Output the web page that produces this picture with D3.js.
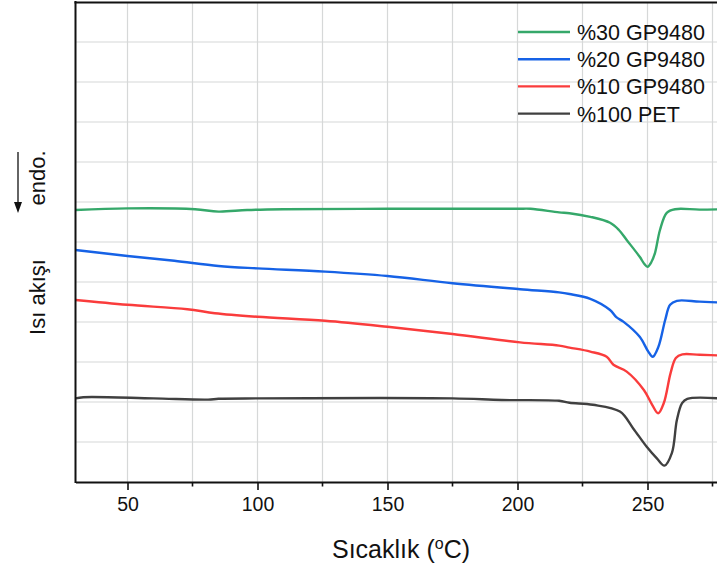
<!DOCTYPE html>
<html>
<head>
<meta charset="utf-8">
<script src="https://cdn.jsdelivr.net/npm/d3@7"></script>
<style>
  html, body { margin: 0; padding: 0; background: #fff; }
  svg { display: block; font-family: "Liberation Sans", Arial, sans-serif; }
</style>
</head>
<body>
<svg id="chart" width="717" height="568"></svg>
<script>
// DSC heating curves: temperature (°C) vs. heat flow (arbitrary units, curves offset)
const temps30 = [30, 50, 76, 85, 96, 110, 150, 200, 205, 216, 220, 228, 235.6, 239, 242, 247, 248.8, 250, 251.5, 252.9, 254.8, 257.4, 260.6, 270, 280];
const gp30    = [6.80, 6.84, 6.82, 6.76, 6.80, 6.82, 6.83, 6.83, 6.83, 6.74, 6.72, 6.63, 6.48, 6.30, 6.05, 5.63, 5.45, 5.38, 5.50, 5.73, 6.30, 6.73, 6.82, 6.81, 6.82];

const temps20 = [30, 50, 68, 85, 100, 126, 150, 175, 201, 216, 220, 228, 235.6, 238, 240.7, 247, 250.3, 252, 254.2, 256.8, 258.7, 261.3, 270, 280];
const gp20    = [5.80, 5.65, 5.53, 5.40, 5.34, 5.26, 5.15, 4.97, 4.82, 4.74, 4.70, 4.58, 4.30, 4.12, 4.01, 3.63, 3.26, 3.13, 3.38, 4.05, 4.43, 4.53, 4.51, 4.48];

const temps10 = [30, 50, 73, 83.6, 100, 126, 150, 175, 201, 216, 220, 228, 234.3, 236.9, 242, 248.6, 251.8, 254.1, 256.3, 258.9, 260.9, 263.4, 270, 280];
const gp10    = [4.55, 4.43, 4.32, 4.22, 4.13, 4.03, 3.88, 3.70, 3.49, 3.41, 3.36, 3.26, 3.13, 2.93, 2.76, 2.30, 1.93, 1.72, 1.98, 2.73, 3.10, 3.19, 3.18, 3.16];

const tempsPet = [30, 33, 60, 81, 85, 100, 175, 194, 216, 220, 229, 239.4, 244.5, 249.7, 253.6, 256.5, 259.4, 261.3, 263.3, 265.3, 280];
const pet      = [2.09, 2.12, 2.09, 2.06, 2.08, 2.09, 2.09, 2.05, 2.03, 1.98, 1.93, 1.76, 1.34, 0.88, 0.59, 0.41, 0.73, 1.55, 1.97, 2.08, 2.08];

const seriesNames  = ["%30 GP9480", "%20 GP9480", "%10 GP9480", "%100 PET"];
const seriesColors = ["#35a86a", "#1662e6", "#fa3c3c", "#404040"];
const seriesTemps  = [temps30, temps20, temps10, tempsPet];
const seriesValues = [gp30, gp20, gp10, pet];

const majorTicks = [50, 100, 150, 200, 250];
const minorTicks = [75, 125, 175, 225, 275];
const yGridLevels = [1, 2, 3, 4, 5, 6, 7, 8, 9, 10, 11];

const svg = d3.select("#chart");
const plotLeft = 75.5, plotRight = 725.5, plotTop = 2, plotBottom = 482;

const x = d3.scaleLinear().domain([30, 280]).range([plotLeft, plotRight]);
const y = d3.scaleLinear().domain([0, 12]).range([plotBottom, plotTop]);

svg.append("defs").append("clipPath").attr("id", "plotClip")
  .append("rect").attr("x", plotLeft).attr("y", plotTop)
  .attr("width", plotRight - plotLeft).attr("height", plotBottom - plotTop);

// grid
const grid = svg.append("g").attr("stroke", "#d6d8d8").attr("stroke-width", 1.2);
grid.selectAll("line.v").data(majorTicks.concat(minorTicks)).join("line").attr("class", "v")
  .attr("x1", d => x(d)).attr("x2", d => x(d)).attr("y1", plotTop).attr("y2", plotBottom);
grid.selectAll("line.h").data(yGridLevels).join("line").attr("class", "h")
  .attr("x1", plotLeft).attr("x2", plotRight).attr("y1", d => y(d)).attr("y2", d => y(d));

// curves
const line = d3.line().x(d => x(d[0])).y(d => y(d[1])).curve(d3.curveCatmullRom.alpha(0.5));
const curves = svg.append("g").attr("clip-path", "url(#plotClip)");
seriesValues.forEach((vals, i) => {
  const pts = seriesTemps[i].map((t, j) => [t, vals[j]]);
  curves.append("path").datum(pts)
    .attr("fill", "none").attr("stroke", seriesColors[i]).attr("stroke-width", 2.4)
    .attr("stroke-linejoin", "round").attr("d", line);
});

// frame: left axis and top border
svg.append("line").attr("x1", plotLeft).attr("x2", plotLeft).attr("y1", plotTop - 1).attr("y2", plotBottom + 1)
  .attr("stroke", "#111").attr("stroke-width", 2);
svg.append("line").attr("x1", plotLeft - 1).attr("x2", 717).attr("y1", plotTop + 0.5).attr("y2", plotTop + 0.5)
  .attr("stroke", "#111").attr("stroke-width", 2);

// bottom axis
const xAxis = d3.axisBottom(x).tickValues(majorTicks).tickSize(8).tickSizeOuter(0).tickPadding(7);
const gx = svg.append("g").attr("transform", `translate(0,${plotBottom})`).call(xAxis);
gx.select(".domain").attr("stroke", "#111").attr("stroke-width", 2);
gx.selectAll(".tick line").attr("stroke", "#111").attr("stroke-width", 1.6);
gx.selectAll(".tick text").attr("font-size", 19.5).attr("fill", "#111")
  .attr("font-family", "Liberation Sans, Arial, sans-serif");
gx.selectAll("line.minor").data(minorTicks).join("line").attr("class", "minor")
  .attr("x1", d => x(d)).attr("x2", d => x(d)).attr("y1", 0).attr("y2", 4.5)
  .attr("stroke", "#111").attr("stroke-width", 1.6);

// axis titles
const xTitle = svg.append("text").attr("x", 401).attr("y", 558).attr("text-anchor", "middle")
  .attr("font-size", 25).attr("fill", "#111");
xTitle.append("tspan").text("Sıcaklık (");
xTitle.append("tspan").attr("font-size", 16).attr("dy", -9).text("o");
xTitle.append("tspan").attr("dy", 9).text("C)");

svg.append("text").attr("transform", "translate(45,297) rotate(-90)").attr("text-anchor", "middle")
  .attr("font-size", 22).attr("fill", "#111").text("Isı akışı");
svg.append("text").attr("transform", "translate(45,178) rotate(-90)").attr("text-anchor", "middle")
  .attr("font-size", 22).attr("fill", "#111").text("endo.");

// endo arrow
svg.append("line").attr("x1", 18).attr("x2", 18).attr("y1", 152).attr("y2", 206)
  .attr("stroke", "#111").attr("stroke-width", 1.3);
svg.append("path").attr("d", "M14,202 L22,202 L18,213 Z").attr("fill", "#111");

// legend
const legend = svg.append("g");
seriesNames.forEach((name, i) => {
  const cy = 32 + i * 27.2;
  legend.append("line").attr("x1", 518).attr("x2", 570).attr("y1", cy).attr("y2", cy)
    .attr("stroke", seriesColors[i]).attr("stroke-width", 2.4);
  legend.append("text").attr("x", 577).attr("y", cy + 8).attr("font-size", 21.5)
    .attr("fill", "#111").text(name);
});
</script>
</body>
</html>
